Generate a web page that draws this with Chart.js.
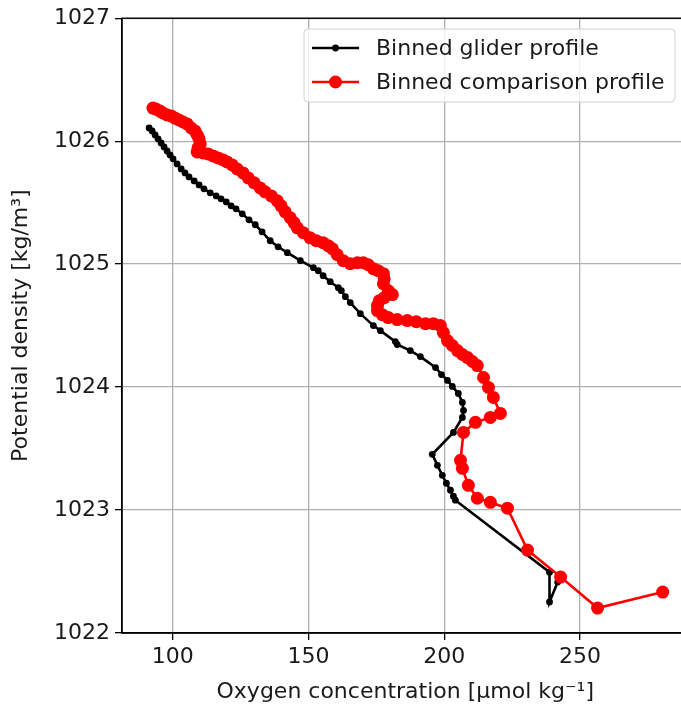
<!DOCTYPE html>
<html><head><meta charset="utf-8">
<script src="https://cdn.jsdelivr.net/npm/chart.js@4.4.0/dist/chart.umd.min.js"></script>
<style>html,body{margin:0;padding:0;background:#fff;overflow:hidden;}#wrap{width:681px;height:710px;overflow:hidden;position:relative;}#c{position:absolute;left:0;top:0;}</style>
</head><body><div id="wrap"><canvas id="c" width="695" height="710"></canvas></div>
<script>
const seriesNames = ['Binned glider profile', 'Binned comparison profile'];
const xTicks = [100, 150, 200, 250];
const yTicks = [1022, 1023, 1024, 1025, 1026, 1027];
const xTitle = 'Oxygen concentration [\u03BCmol kg\u207B\u00B9]';
const yTitle = 'Potential density [kg/m\u00B3]';

const gliderOxygen = [91.3, 92.4, 93.5, 94.6, 95.7, 96.8, 97.9, 99.0, 100.1, 101.6, 103.1, 104.5, 106.0, 107.9, 109.7, 111.5, 113.8, 116.0, 117.8, 119.7, 121.5, 123.3, 125.6, 128.1, 130.4, 132.9, 135.9, 138.8, 142.2, 147.0, 151.8, 153.6, 155.4, 158.0, 161.0, 162.1, 163.6, 165.4, 169.1, 173.9, 176.5, 182.0, 182.7, 187.5, 191.2, 196.8, 199.0, 201.2, 203.0, 205.2, 206.7, 207.1, 206.7, 203.4, 195.6, 197.5, 199.3, 200.8, 202.3, 203.4, 204.1, 238.8, 238.8, 241.8];
const gliderDensity = [1026.107, 1026.083, 1026.050, 1026.018, 1025.985, 1025.953, 1025.920, 1025.888, 1025.856, 1025.815, 1025.774, 1025.742, 1025.709, 1025.677, 1025.644, 1025.612, 1025.580, 1025.555, 1025.531, 1025.506, 1025.474, 1025.450, 1025.409, 1025.360, 1025.320, 1025.263, 1025.190, 1025.141, 1025.093, 1025.028, 1024.971, 1024.946, 1024.906, 1024.857, 1024.808, 1024.784, 1024.735, 1024.687, 1024.597, 1024.500, 1024.459, 1024.370, 1024.346, 1024.297, 1024.248, 1024.159, 1024.102, 1024.054, 1024.005, 1023.948, 1023.875, 1023.810, 1023.753, 1023.631, 1023.453, 1023.364, 1023.282, 1023.218, 1023.161, 1023.112, 1023.080, 1022.495, 1022.252, 1022.414];

const comparisonOxygen = [92.7, 93.8, 95.3, 96.4, 97.9, 99.4, 100.8, 102.3, 103.8, 105.3, 106.8, 108.2, 109.0, 109.7, 110.1, 109.3, 109.0, 111.2, 113.0, 114.9, 116.7, 118.6, 120.0, 121.9, 123.7, 125.9, 127.8, 130.0, 132.2, 134.0, 136.3, 138.5, 139.9, 141.4, 143.3, 144.7, 145.9, 148.1, 150.6, 152.9, 155.4, 157.3, 158.8, 160.6, 162.8, 165.4, 168.0, 170.2, 172.0, 173.9, 175.7, 177.6, 177.9, 177.6, 179.4, 180.9, 177.9, 176.1, 175.4, 175.4, 177.2, 179.4, 182.7, 186.4, 189.7, 193.1, 196.0, 198.6, 199.7, 201.2, 203.0, 204.9, 206.7, 208.6, 210.4, 212.2, 214.5, 216.3, 218.1, 220.7, 217.0, 211.5, 207.1, 206.0, 206.7, 208.9, 212.2, 217.0, 223.3, 230.7, 242.9, 256.5, 280.5];
const comparisonDensity = [1026.269, 1026.261, 1026.245, 1026.229, 1026.213, 1026.205, 1026.188, 1026.172, 1026.156, 1026.140, 1026.107, 1026.083, 1026.050, 1026.018, 1025.977, 1025.945, 1025.912, 1025.904, 1025.896, 1025.880, 1025.864, 1025.847, 1025.831, 1025.807, 1025.774, 1025.742, 1025.701, 1025.661, 1025.620, 1025.588, 1025.555, 1025.515, 1025.474, 1025.425, 1025.377, 1025.336, 1025.295, 1025.255, 1025.214, 1025.190, 1025.174, 1025.149, 1025.125, 1025.076, 1025.028, 1025.003, 1025.011, 1025.011, 1024.995, 1024.963, 1024.946, 1024.922, 1024.881, 1024.841, 1024.784, 1024.752, 1024.727, 1024.703, 1024.662, 1024.622, 1024.589, 1024.565, 1024.549, 1024.541, 1024.532, 1024.516, 1024.516, 1024.500, 1024.443, 1024.378, 1024.338, 1024.297, 1024.265, 1024.240, 1024.208, 1024.175, 1024.078, 1023.997, 1023.916, 1023.786, 1023.753, 1023.713, 1023.631, 1023.404, 1023.339, 1023.201, 1023.096, 1023.063, 1023.015, 1022.674, 1022.455, 1022.203, 1022.333];

const FONT = 'DejaVu Sans';
const FS = 22;
const TXT = '#1a1a1a';

const toPts = (xs, ys) => xs.map((x, i) => ({x: x, y: ys[i]}));

const framePlugin = {
  id: 'frame',
  afterDatasetsDraw(chart) {
    const a = chart.chartArea, ctx = chart.ctx;
    ctx.save();
    ctx.strokeStyle = '#000';
    ctx.lineWidth = 1.4;
    ctx.strokeRect(a.left, a.top, a.right - a.left, a.bottom - a.top);
    ctx.restore();
  }
};

const legendPlugin = {
  id: 'mplLegend',
  afterDraw(chart) {
    const ctx = chart.ctx;
    const bx = 304, by = 29, bw = 371, bh = 73, r = 4;
    ctx.save();
    ctx.beginPath();
    ctx.moveTo(bx + r, by);
    ctx.arcTo(bx + bw, by, bx + bw, by + bh, r);
    ctx.arcTo(bx + bw, by + bh, bx, by + bh, r);
    ctx.arcTo(bx, by + bh, bx, by, r);
    ctx.arcTo(bx, by, bx + bw, by, r);
    ctx.closePath();
    ctx.fillStyle = 'rgba(255,255,255,0.8)';
    ctx.fill();
    ctx.strokeStyle = '#d0d0d0';
    ctx.lineWidth = 1;
    ctx.stroke();
    const rows = [48, 82];
    chart.data.datasets.forEach((ds, i) => {
      const y = rows[i];
      ctx.strokeStyle = ds.borderColor;
      ctx.lineWidth = ds.borderWidth;
      ctx.beginPath();
      ctx.moveTo(312, y);
      ctx.lineTo(359, y);
      ctx.stroke();
      ctx.fillStyle = ds.pointBackgroundColor;
      ctx.beginPath();
      ctx.arc(335.5, y, ds.pointRadius, 0, Math.PI * 2);
      ctx.fill();
      ctx.fillStyle = TXT;
      ctx.font = FS + 'px "' + FONT + '"';
      ctx.textBaseline = 'middle';
      ctx.textAlign = 'left';
      ctx.fillText(ds.label, 376, y + 1);
    });
    ctx.restore();
  }
};

new Chart(document.getElementById('c'), {
  type: 'scatter',
  data: {
    datasets: [
      {
        label: seriesNames[0],
        data: toPts(gliderOxygen, gliderDensity),
        showLine: true,
        borderColor: '#000000',
        backgroundColor: '#000000',
        pointBackgroundColor: '#000000',
        borderWidth: 2.6,
        pointRadius: 3.4,
        pointBorderWidth: 0,
        pointHoverRadius: 3.4,
        order: 1
      },
      {
        label: seriesNames[1],
        data: toPts(comparisonOxygen, comparisonDensity),
        showLine: true,
        borderColor: '#ff0000',
        backgroundColor: '#ff0000',
        pointBackgroundColor: '#ff0000',
        borderWidth: 2.6,
        pointRadius: 6.5,
        pointBorderWidth: 0,
        pointHoverRadius: 6.5,
        order: 0
      }
    ]
  },
  options: {
    responsive: false,
    animation: false,
    devicePixelRatio: 1,
    layout: {padding: {left: 0, top: 17, right: 0, bottom: 0}},
    plugins: {legend: {display: false}, tooltip: {enabled: false}},
    scales: {
      x: {
        type: 'linear',
        min: 81.3,
        max: 290,
        afterBuildTicks: s => { s.ticks = xTicks.map(v => ({value: v})); },
        afterFit: s => { s.height = 77; },
        grid: {color: '#b0b0b0', lineWidth: 1.3, tickColor: '#000', tickLength: 7, drawTicks: true},
        border: {display: true, color: '#000', width: 1.4},
        ticks: {color: TXT, font: {family: FONT, size: FS}, padding: 4, maxRotation: 0, callback: v => String(v)},
        title: {display: true, text: xTitle, color: TXT, font: {family: FONT, size: FS}, padding: {top: 0, bottom: 5}}
      },
      y: {
        type: 'linear',
        min: 1022,
        max: 1027,
        afterBuildTicks: s => { s.ticks = yTicks.map(v => ({value: v})); },
        afterFit: s => { s.width = 122; },
        grid: {color: '#b0b0b0', lineWidth: 1.3, tickColor: '#000', tickLength: 7, drawTicks: true},
        border: {display: true, color: '#000', width: 1.4},
        ticks: {color: TXT, font: {family: FONT, size: FS}, padding: 5, callback: v => String(v)},
        title: {display: true, text: yTitle, color: TXT, font: {family: FONT, size: FS}, padding: {top: 8, bottom: 0}}
      }
    }
  },
  plugins: [framePlugin, legendPlugin]
});
</script>
</body></html>
